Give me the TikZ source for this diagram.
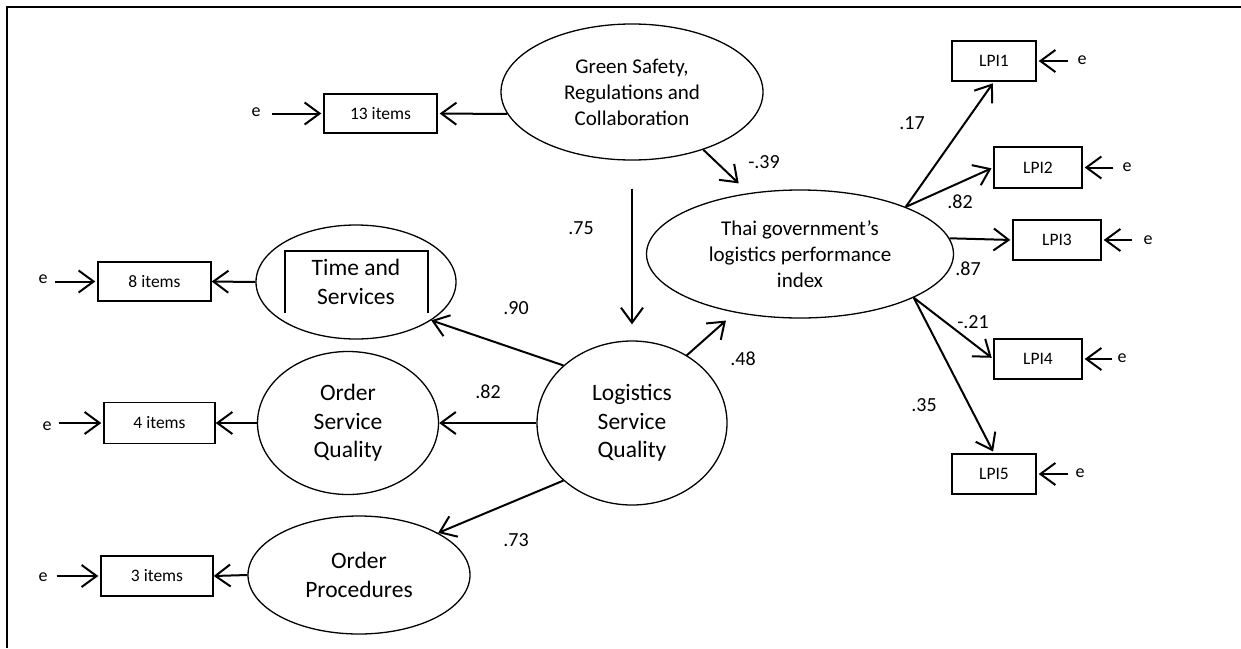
\documentclass[tikz,border=0pt]{standalone}
\usepackage{fontspec}
\setmainfont{Carlito}
\usetikzlibrary{shapes.geometric,arrows.meta,calc}
\begin{document}
\begin{tikzpicture}[x=1pt,y=-1pt,
  lat/.style={ellipse, draw, line width=1.3pt, inner sep=0pt, align=center, font=\fontsize{23.5}{28.5}\selectfont},
  latb/.style={lat, font=\fontsize{21}{26}\selectfont},
  obs/.style={rectangle, draw, line width=1.4pt, inner sep=0pt, font=\fontsize{17.5}{20}\selectfont},
  err/.style={inner sep=0pt, font=\fontsize{18}{20}\selectfont},
  coef/.style={inner sep=0pt, font=\fontsize{20}{24}\selectfont},
  arr/.style={line width=2pt, -{Straight Barb[length=15pt,width=22pt]}},
]
\useasboundingbox (0,0) rectangle (1241,648);
\draw[line width=2pt] (7,648) -- (7,7) -- (1241,7);

% latent variables
\node[latb, minimum width=262pt, minimum height=136pt] (green) at (632,92) {Green Safety,\\Regulations and\\Collaboration};
\node[latb, minimum width=307pt, minimum height=128pt] (thai) at (800,254) {Thai government’s\\logistics performance\\index};
\node[lat, minimum width=190pt, minimum height=164pt] (lsq) at (632,423) {Logistics\\Service\\Quality};
\node[lat, minimum width=200pt, minimum height=114pt] (time) at (356,282) {Time and\\Services};
\node[lat, minimum width=181pt, minimum height=143pt] (osq) at (348,423) {Order\\Service\\Quality};
\node[lat, minimum width=222pt, minimum height=118pt] (proc) at (359,575) {Order\\Procedures};
\draw[line width=1.4pt] ($(time.center)+(-71,31)$) -- ($(time.center)+(-71,-31)$) -- ($(time.center)+(72,-31)$) -- ($(time.center)+(72,31)$);

% observed
\node[obs, minimum width=113pt, minimum height=39pt] (i13) at (380.5,113.5) {13 items};
\node[obs, minimum width=113pt, minimum height=39pt] (i8) at (154.5,281.5) {8 items};
\node[obs, minimum width=111pt, minimum height=41pt] (i4) at (159.5,423) {4 items};
\node[obs, minimum width=112pt, minimum height=40pt] (i3) at (157,576) {3 items};
\node[obs, minimum width=84pt, minimum height=40pt] (l1) at (994,61) {LPI1};
\node[obs, minimum width=88pt, minimum height=41pt] (l2) at (1038,167.5) {LPI2};
\node[obs, minimum width=88pt, minimum height=40pt] (l3) at (1057,240) {LPI3};
\node[obs, minimum width=88pt, minimum height=40pt] (l4) at (1038,359) {LPI4};
\node[obs, minimum width=84pt, minimum height=40pt] (l5) at (994,474) {LPI5};

% errors
\node[err] (e13) at (256,112) {e};
\node[err] (e8) at (43,279.5) {e};
\node[err] (e4) at (47,426) {e};
\node[err] (e3) at (43,577.5) {e};
\node[err] (el1) at (1082,60) {e};
\node[err] (el2) at (1127,167) {e};
\node[err] (el3) at (1148,240) {e};
\node[err] (el4) at (1122,358) {e};
\node[err] (el5) at (1080,473) {e};

\draw[arr, shorten <=11pt, shorten >=2pt] (e13.east |- i13.west) -- (i13.west);
\draw[arr, shorten <=7pt, shorten >=2pt] (e8.east |- i8.west) -- (i8.west);
\draw[arr, shorten <=7pt, shorten >=2pt] (e4.east |- i4.west) -- (i4.west);
\draw[arr, shorten <=9pt, shorten >=2pt] (e3.east |- i3.west) -- (i3.west);
\draw[arr, shorten <=9pt, shorten >=2pt] (el1.west |- l1.east) -- (l1.east);
\draw[arr, shorten <=9pt, shorten >=2pt] (el2.west |- l2.east) -- (l2.east);
\draw[arr, shorten <=11pt, shorten >=2pt] (el3.west |- l3.east) -- (l3.east);
\draw[arr, shorten <=5pt, shorten >=2pt] (el4.west |- l4.east) -- (l4.east);
\draw[arr, shorten <=7pt, shorten >=2pt] (el5.west |- l5.east) -- (l5.east);

% structural paths
\draw[arr, shorten >=2pt] (green.190) -- (i13.east);
\draw[arr] (time.west) -- (i8.east);
\draw[arr] (osq.west) -- (i4.east);
\draw[arr] (proc.west) -- (i3.east);
\draw[arr, shorten >=14pt] (green.-39) -- (thai.130);
\draw[arr, shorten <=28pt, shorten >=16pt] (green.south) -- (lsq.north);
\draw[arr, shorten >=12pt] (lsq.51) -- (thai.222);
\draw[arr] (lsq.140) -- (time.-27);
\draw[arr] (lsq.west) -- (osq.east);
\draw[arr] (lsq.220) -- (proc.28);
\draw[arr, shorten >=2pt] (thai.24) -- (l1.south);
\draw[arr, shorten >=2pt] (thai.24) -- (l2.west);
\draw[arr, shorten >=2pt] (thai.6) -- (l3.west);
\draw[arr, shorten >=2pt] (thai.-21) -- (l4.west);
\draw[arr, shorten >=2pt] (thai.-21) -- (l5.north);

% coefficients
\node[coef] (c75) at (581,228) {.75};
\node[coef] (c90) at (516,308) {.90};
\node[coef] (c82a) at (488,392) {.82};
\node[coef] (c73) at (516,540) {.73};
\node[coef] (c39) at (764,162) {-.39};
\node[coef] (c48) at (743,359) {.48};
\node[coef] (c17) at (912,123) {.17};
\node[coef] (c82b) at (960,202) {.82};
\node[coef] (c87) at (968,269) {.87};
\node[coef] (c21) at (973,322) {-.21};
\node[coef] (c35) at (924,405) {.35};
\end{tikzpicture}
\end{document}
